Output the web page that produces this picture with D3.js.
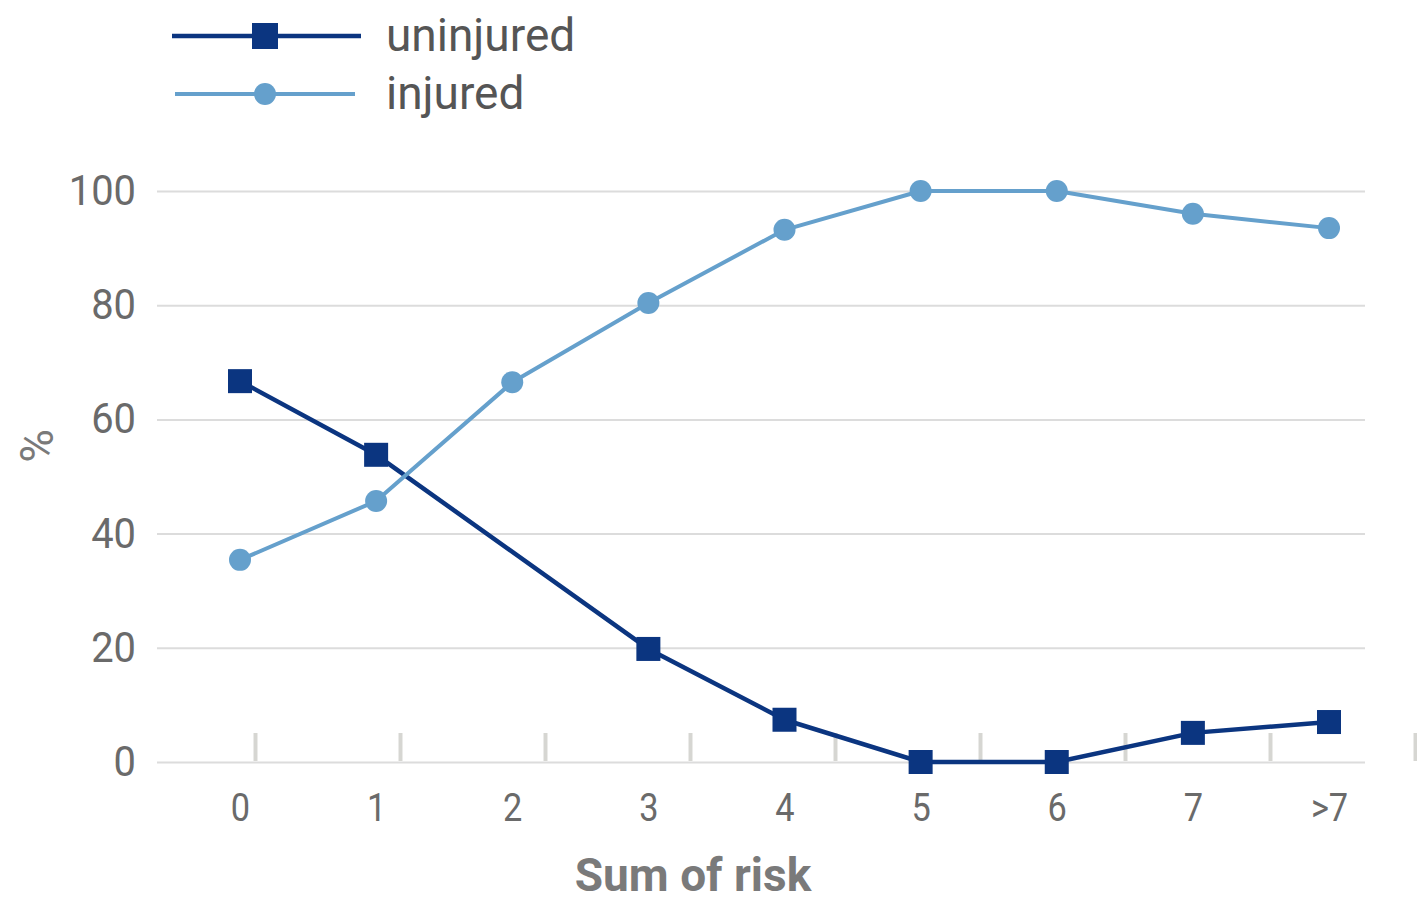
<!DOCTYPE html>
<html><head><meta charset="utf-8">
<script src="https://cdn.jsdelivr.net/npm/d3@7"></script>
<style>body{margin:0;background:#fff}svg{display:block}</style>
</head><body>
<svg id="c" width="1417" height="903"></svg>
<script>
const categories = ["0","1","2","3","4","5","6","7",">7"];
const uninjured = [66.7, 53.8, null, 19.8, 7.4, 0, 0, 5.1, 7.0];
const injured = [35.4, 45.7, 66.5, 80.4, 93.2, 100, 100, 96, 93.5];
const yTicks = [0, 20, 40, 60, 80, 100];
const seriesNames = ["uninjured", "injured"];
const colors = ["#0b3580", "#65a0cc"];

const svg = d3.select("#c");
const font = "Roboto, 'Liberation Sans', sans-serif";
const x = d3.scalePoint().domain(categories).range([240, 1329]);
const xTick = d3.scalePoint().domain(categories).range([255, 1415]);
const y = d3.scaleLinear().domain([0, 100]).range([762, 191]);

// gridlines
const gy = svg.append("g").attr("transform", "translate(157,0)")
  .call(d3.axisLeft(y).tickValues(yTicks).tickSize(-1208).tickFormat(""));
gy.select(".domain").remove();
gy.selectAll("line").attr("stroke", "#dcdcdc").attr("stroke-width", 2);

// y labels
const yl = svg.append("g").attr("transform", "translate(136,0)")
  .call(d3.axisLeft(y).tickValues(yTicks).tickSize(0).tickPadding(0));
yl.select(".domain").remove();
yl.selectAll("text").attr("font-family", font).attr("font-size", 42).attr("fill", "#6a6a6a")
  .attr("transform", "scale(0.95,1)");

// x tick marks
const xt = svg.append("g").attr("transform", "translate(0,761)")
  .call(d3.axisTop(xTick).tickSize(28).tickFormat(""));
xt.select(".domain").remove();
xt.selectAll("line").attr("stroke", "#d6d6d2").attr("stroke-width", 4);

// x labels
const xl = svg.append("g").attr("transform", "translate(0,793)")
  .call(d3.axisBottom(x).tickSize(0).tickPadding(0));
xl.select(".domain").remove();
xl.selectAll("text").attr("font-family", font).attr("font-size", 39).attr("fill", "#6a6a6a")
  .attr("transform", "scale(0.88,1)");

// axis titles
svg.append("text").attr("x", 693).attr("y", 891).attr("text-anchor", "middle")
  .attr("font-family", font).attr("font-size", 46).attr("font-weight", "bold").attr("fill", "#7a7a7a")
  .text("Sum of risk");
svg.append("text").attr("transform", "translate(53,446) rotate(-90)").attr("text-anchor", "middle")
  .attr("font-family", font).attr("font-size", 46).attr("fill", "#7a7a7a").text("%");

// lines
const data = [uninjured, injured];
const line = d3.line().x(d => x(d.c)).y(d => y(d.v));
data.forEach((vals, i) => {
  const pts = categories.map((c, j) => ({c, v: vals[j]})).filter(p => p.v !== null);
  svg.append("path").datum(pts).attr("d", line).attr("fill", "none")
    .attr("stroke", colors[i]).attr("stroke-width", i === 0 ? 4.5 : 4).attr("stroke-linejoin", "round");
  if (i === 0) {
    svg.selectAll(null).data(pts).enter().append("rect")
      .attr("x", d => x(d.c) - 12).attr("y", d => y(d.v) - 12).attr("width", 24).attr("height", 24)
      .attr("fill", colors[0]);
  } else {
    svg.selectAll(null).data(pts).enter().append("circle")
      .attr("cx", d => x(d.c)).attr("cy", d => y(d.v)).attr("r", 11).attr("fill", colors[1]);
  }
});

// legend
const leg = svg.append("g");
leg.append("line").attr("x1", 172).attr("x2", 361).attr("y1", 36).attr("y2", 36)
  .attr("stroke", colors[0]).attr("stroke-width", 4.5);
leg.append("rect").attr("x", 252).attr("y", 23).attr("width", 26).attr("height", 26).attr("fill", colors[0]);
leg.append("line").attr("x1", 175).attr("x2", 355).attr("y1", 94).attr("y2", 94)
  .attr("stroke", colors[1]).attr("stroke-width", 4);
leg.append("circle").attr("cx", 265).attr("cy", 94).attr("r", 11).attr("fill", colors[1]);
leg.selectAll(null).data(seriesNames).enter().append("text")
  .attr("x", 386).attr("y", (d, i) => 51 + i * 58)
  .attr("font-family", font).attr("font-size", 46).attr("fill", "#555")
  .text(d => d);
</script>
</body></html>
